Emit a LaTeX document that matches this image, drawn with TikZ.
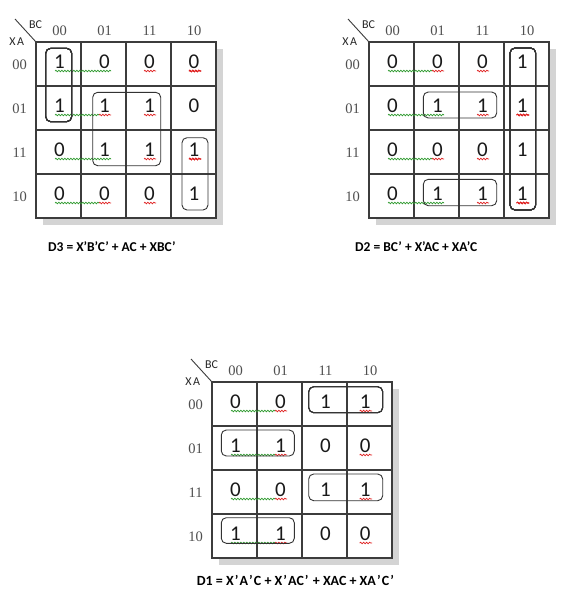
\documentclass[tikz,border=0pt]{standalone}
\usepackage{fontspec}
\setmainfont{Carlito}
\newfontfamily\lblfont{Liberation Serif}
\usetikzlibrary{decorations.pathmorphing}
\definecolor{gridc}{HTML}{3C3C3C}
\definecolor{shadowc}{HTML}{D4D4D4}
\definecolor{lblc}{HTML}{505050}
\definecolor{sqg}{HTML}{2E9A2E}
\definecolor{sqr}{HTML}{E02020}
\tikzset{
  gridline/.style={draw=gridc, line width=1.5pt},
  digit/.style={font=\fontsize{21}{21}\selectfont, anchor=base, inner sep=0pt, text=black!90},
  hdr/.style={font=\lblfont\fontsize{14.5}{14.5}\selectfont, text=lblc, anchor=base, inner sep=0pt},
  varlbl/.style={font=\fontsize{12}{12}\selectfont, inner sep=0pt, text=black!85},
  loopbox/.style={draw=black!80, line width=0.9pt, rounded corners=5pt},
  sq/.style={decorate, decoration={snake, amplitude=0.8pt, segment length=3pt}, line width=0.7pt},
  eqn/.style={font=\bfseries\fontsize{13.5}{13.5}\selectfont, anchor=west, inner sep=0pt},
}
\newcommand\kmframe[1]{%
  \fill[shadowc] (7,7) rectangle (187,183);
  \fill[white] (0,0) rectangle (180,176);
  \foreach \xx in {45,90,135} \draw[gridline] (\xx,0) -- (\xx,176);
  \foreach \yy in {44,88,132} \draw[gridline] (0,\yy) -- (180,\yy);
  \draw[gridline] (0,0) rectangle (180,176);
  \coordinate (#1corner) at (0,0);
  \coordinate (#1diag) at (-21,-23);
  \draw[gridc, line width=0.9pt] (#1diag) -- (#1corner);
  \node[varlbl] (#1bc) at (-0.5,-17) {BC};
  \node[varlbl] (#1xa) at (-19.3,-0.3) {X\hspace{1.5pt}A};
  \node[hdr] (#1h0) at (23.5,-6.5) {00};
  \node[hdr] (#1h1) at (68.5,-6.5) {01};
  \node[hdr] (#1h2) at (113.5,-6.5) {11};
  \node[hdr] (#1h3) at (158,-6.5) {10};
  \node[hdr] (#1v0) at (-16.3,27.5) {00};
  \node[hdr] (#1v1) at (-16.3,71.5) {01};
  \node[hdr] (#1v2) at (-16.3,115.5) {11};
  \node[hdr] (#1v3) at (-16.3,159.5) {10};
}
\newcommand\kmdigits[3]{%
  \foreach \r/\a/\b/\c/\d in {#3} {
    \node[digit] (#1d\r0) at (23.5,44*\r+26.7) {\a};
    \node[digit] (#1d\r1) at (68.5,44*\r+26.7) {\b};
    \node[digit] (#1d\r2) at (113.5,44*\r+26.7) {\c};
    \node[digit] (#1d\r3) at (#2,44*\r+26.7) {\d};
  }}
\newcommand\sgall[1]{\draw[sq,sqg] (19,#1) -- (75,#1);}
\newcommand\sggr[1]{\draw[sq,sqg] (19,#1) -- (63,#1); \draw[sq,sqr] (63,#1) -- (75,#1);}
\newcommand\sred[3]{\draw[sq,sqr] (#1,#3) -- (#2,#3);}
\newcommand\wap{\kern1.1pt’\kern1.1pt}
\begin{document}
\begin{tikzpicture}[x=1pt,y=-1pt]
\useasboundingbox (0,0) rectangle (585,600);
\fill[white] (0,0) rectangle (585,600);

% ---------- Map D3 ----------
\begin{scope}[shift={(36,42)}]
  \kmframe{ma}
  \kmdigits{ma}{158}{0/1/0/0/0, 1/1/1/1/0, 2/0/1/1/1, 3/0/0/0/1}
  \sgall{29} \sggr{73} \sgall{117} \sggr{161}
  \foreach \yy in {29,73,117,161} \sred{108}{120}{\yy}
  \foreach \yy in {29,117} \sred{153}{165}{\yy}
  \draw[loopbox] (9.7,6.3) rectangle (35.7,79.7);
  \draw[loopbox] (56.7,50.3) rectangle (124.7,123.7);
  \draw[loopbox] (146,95.7) rectangle (172,168);
\end{scope}

% ---------- Map D2 ----------
\begin{scope}[shift={(369,42)}]
  \kmframe{mb}
  \kmdigits{mb}{153.3}{0/0/0/0/1, 1/0/1/1/1, 2/0/0/0/1, 3/0/1/1/1}
  \sggr{29} \sgall{73} \sggr{117} \sgall{161}
  \foreach \yy in {29,73,117,161} \sred{108}{120}{\yy}
  \foreach \yy in {73,161} \sred{147.7}{160}{\yy}
  \draw[loopbox] (141,6) rectangle (166.7,168);
  \draw[loopbox] (54.3,50) rectangle (127.7,76);
  \draw[loopbox] (54.3,137.3) rectangle (127.7,163.7);
\end{scope}

% ---------- Map D1 ----------
\begin{scope}[shift={(212,382)}]
  \kmframe{mc}
  \kmdigits{mc}{153.3}{0/0/0/1/1, 1/1/1/0/0, 2/0/0/1/1, 3/1/1/0/0}
  \sggr{29} \sggr{73} \sggr{117} \sggr{161}
  \foreach \yy in {29,73,117,161} \sred{147.7}{160}{\yy}
  \draw[loopbox] (96.7,4.7) rectangle (170.7,30.7);
  \draw[loopbox] (9.3,48) rectangle (82.3,74);
  \draw[loopbox] (96.7,92) rectangle (170.7,118.7);
  \draw[loopbox] (9.3,135.7) rectangle (82.3,161.3);
\end{scope}

\node[eqn] (eqa) at (48,246.7) {D3 = X’B’C’ + AC + XBC’};
\node[eqn] (eqb) at (355,246.7) {D2 = BC’ + X’AC + XA’C};
\node[eqn, font=\bfseries\fontsize{14}{14}\selectfont] (eqc) at (196.7,580) {D1 = X\wap A\wap C + X\wap AC\wap{} + XAC + XA\wap C\wap};
\end{tikzpicture}
\end{document}
